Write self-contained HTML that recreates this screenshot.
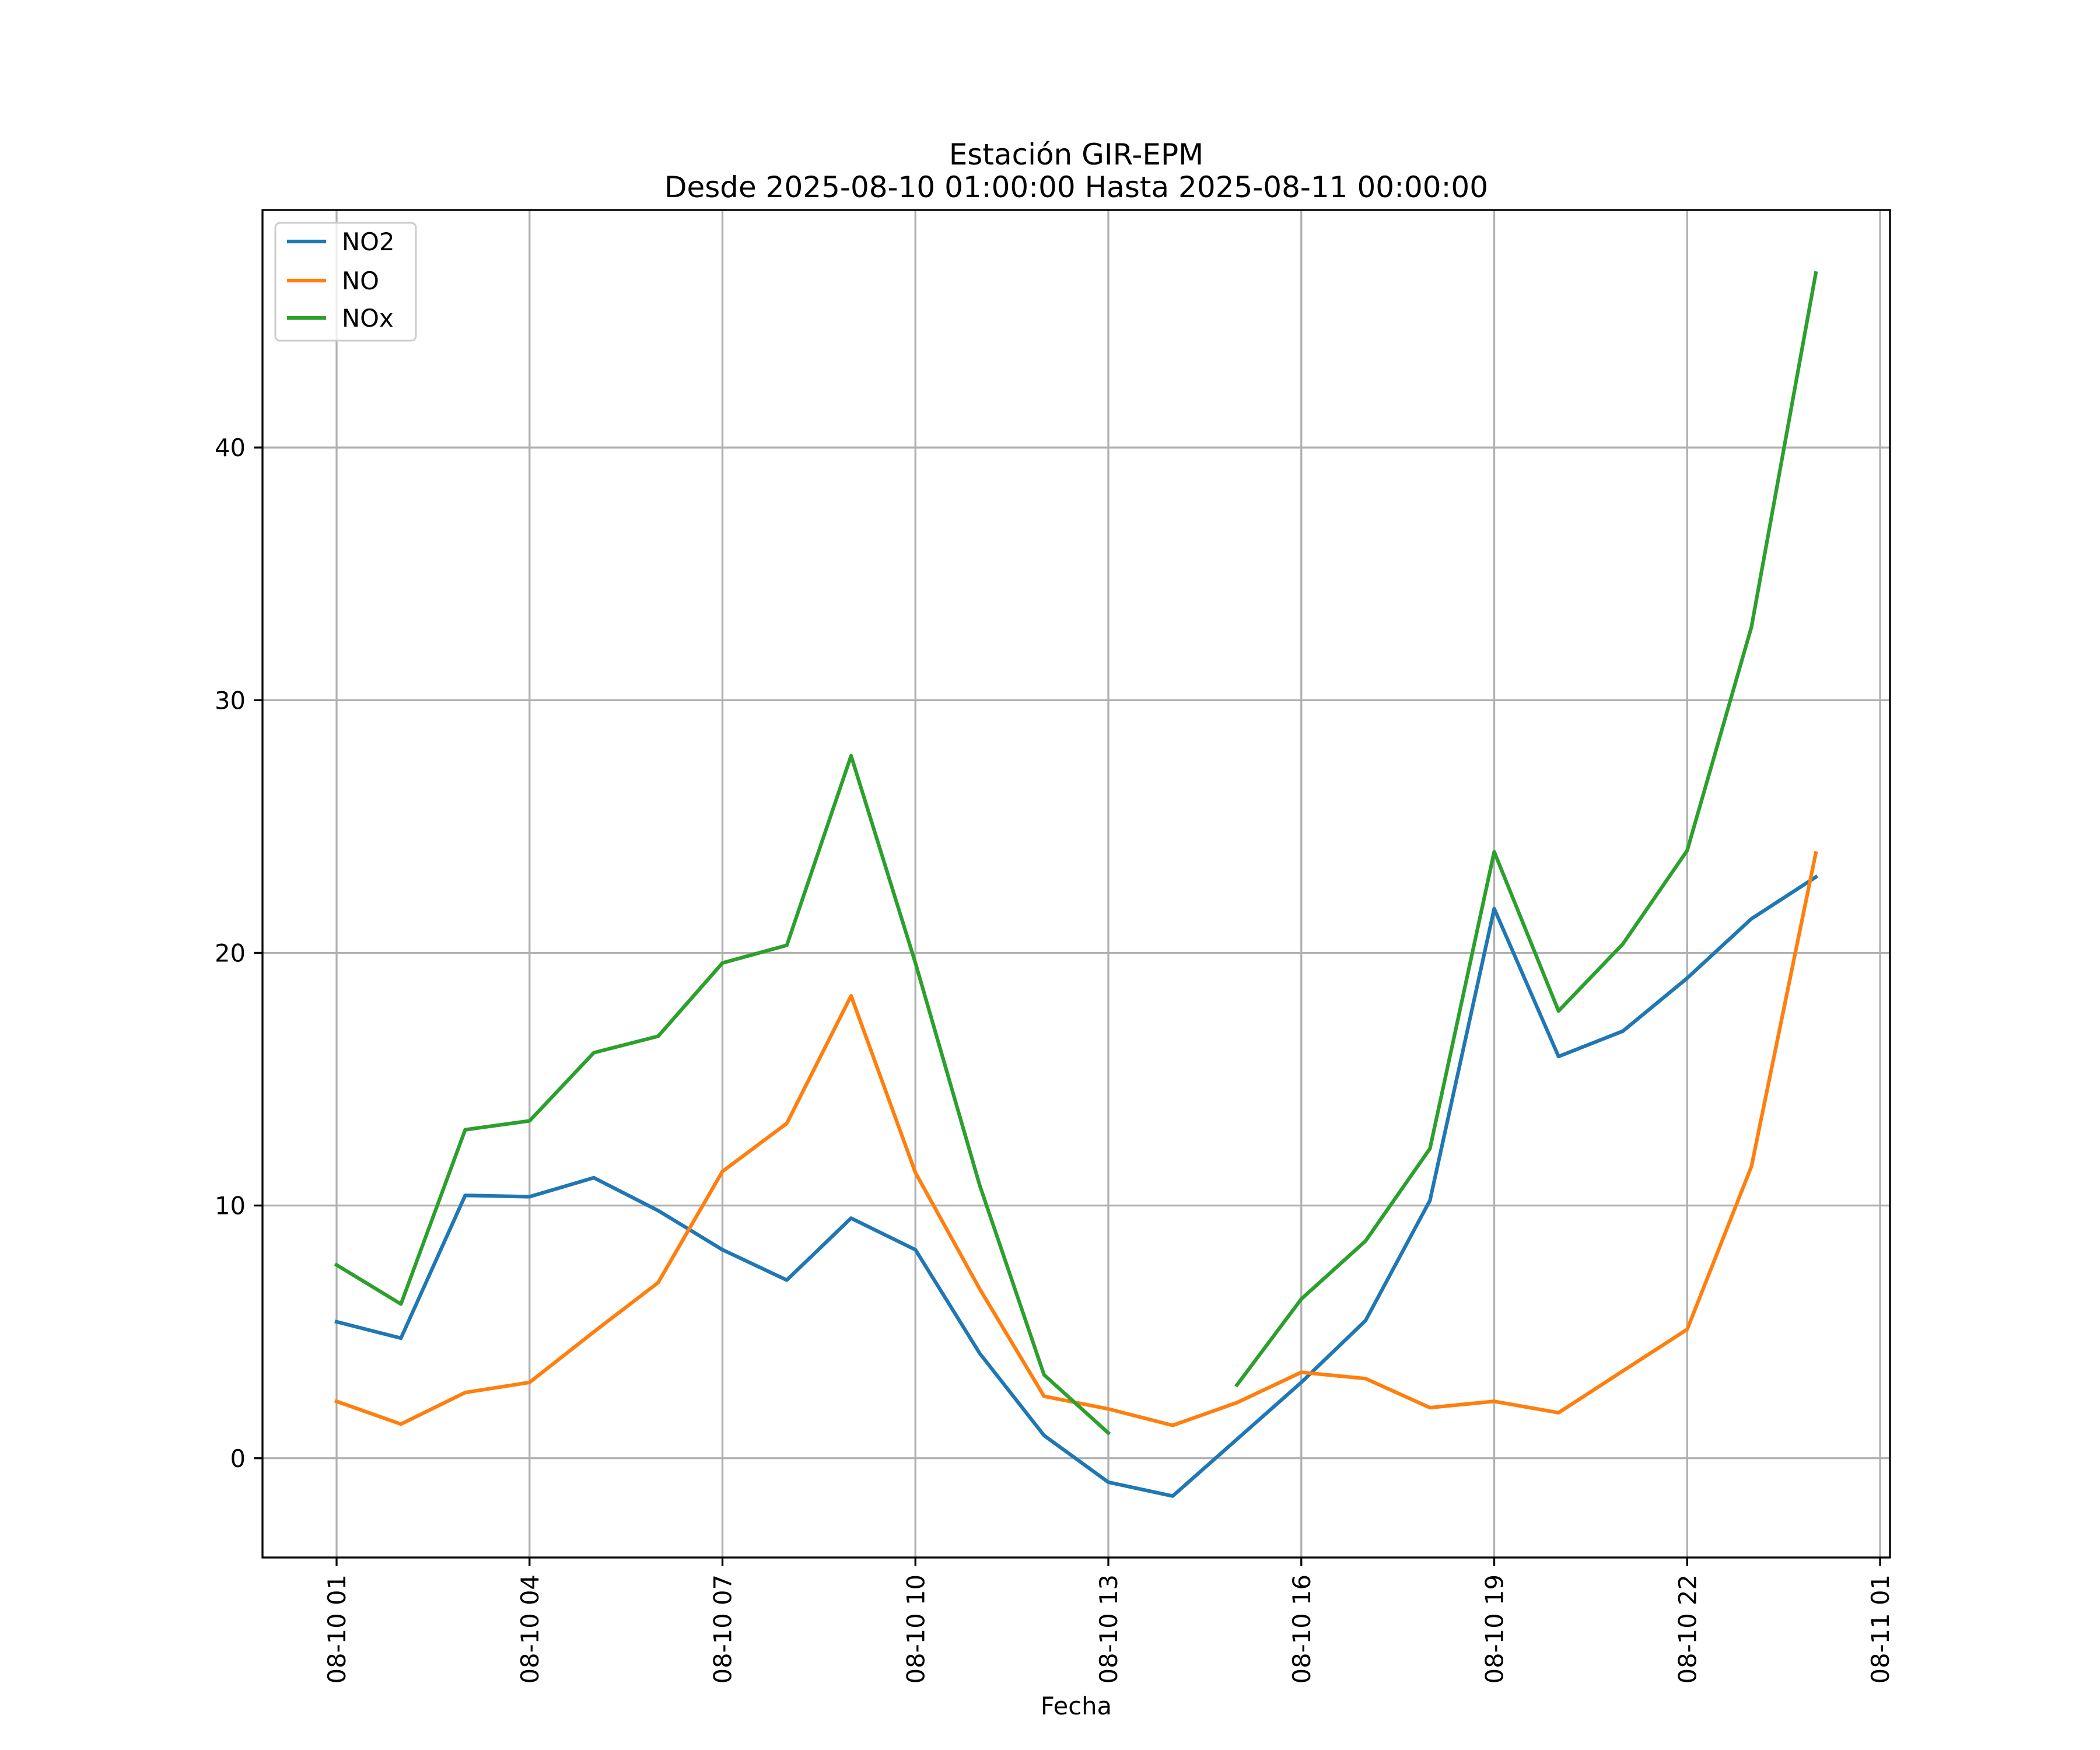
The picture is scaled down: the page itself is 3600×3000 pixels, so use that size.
<!DOCTYPE html>
<html><head><meta charset="utf-8"><style>
html,body{margin:0;padding:0;background:#fff;}
svg{display:block;font-family:"DejaVu Sans","Liberation Sans",sans-serif;}
</style></head><body>
<svg id="chart" width="3600" height="3000" viewBox="0 0 3600 3000" xmlns="http://www.w3.org/2000/svg">
<rect width="3600" height="3000" fill="#fff"/>
<text x="1845" y="282" font-size="50" text-anchor="middle">Estación GIR-EPM</text>
<text x="1845" y="338" font-size="50" text-anchor="middle">Desde 2025-08-10 01:00:00 Hasta 2025-08-11 00:00:00</text>
<g id="grid"></g><g id="series"></g><g id="axes"></g>
<text x="1845" y="2939" font-size="41.7" text-anchor="middle">Fecha</text>
<g>
<rect x="472" y="382" width="241" height="202" rx="8" fill="#fff" fill-opacity="0.8" stroke="#ccc" stroke-width="3"/>
<line x1="492" y1="414" x2="559" y2="414" stroke="#1f77b4" stroke-width="6.25"/>
<text x="586" y="429" font-size="41.7">NO2</text>
<line x1="492" y1="481" x2="559" y2="481" stroke="#ff7f0e" stroke-width="6.25"/>
<text x="586" y="496" font-size="41.7">NO</text>
<line x1="492" y1="545" x2="559" y2="545" stroke="#2ca02c" stroke-width="6.25"/>
<text x="586" y="560" font-size="41.7">NOx</text>
</g>
</svg>
<script>
const hours = [1,2,3,4,5,6,7,8,9,10,11,12,13,14,15,16,17,18,19,20,21,22,23,24];
const no2 = [5.4,4.75,10.4,10.35,11.1,9.8,8.25,7.05,9.5,8.25,4.15,0.9,-0.95,-1.5,0.75,3.0,5.45,10.2,21.75,15.9,16.9,19.0,21.35,23.0];
const no = [2.25,1.35,2.6,3.0,5.0,6.95,11.35,13.25,18.3,11.3,6.7,2.45,1.95,1.3,2.2,3.4,3.15,2.0,2.25,1.8,3.45,5.1,11.55,23.95];
const nox = [7.65,6.1,13.0,13.35,16.05,16.7,19.6,20.3,27.8,19.6,10.8,3.3,1.0,null,2.9,6.3,8.6,12.25,24.0,17.7,20.35,24.05,32.9,46.9];
const xTickHours = [1,4,7,10,13,16,19,22,25];
const xTickLabels = ["08-10 01","08-10 04","08-10 07","08-10 10","08-10 13","08-10 16","08-10 19","08-10 22","08-11 01"];
const yTicks = [0,10,20,30,40];

const L=450,R=3240,T=360,B=2670;
const xMin=-0.152,xMax=25.154,yMin=-3.93,yMax=49.4;
const X=h=>L+(h-xMin)/(xMax-xMin)*(R-L);
const Y=v=>B-(v-yMin)/(yMax-yMin)*(B-T);
const NS="http://www.w3.org/2000/svg";
function mk(tag,attrs,parent){const e=document.createElementNS(NS,tag);for(const k in attrs)e.setAttribute(k,attrs[k]);parent.appendChild(e);return e;}
const grid=document.getElementById('grid'),axes=document.getElementById('axes'),series=document.getElementById('series');

xTickHours.forEach((h,i)=>{
  const x=X(h);
  const g=mk('line',{x1:x,y1:T,x2:x,y2:B,stroke:'#b0b0b0','stroke-width':3.3},grid);
  
  
  const t=mk('line',{x1:x,y1:B,x2:x,y2:B+14.6,stroke:'#000','stroke-width':3.3},axes);
  
  
  const lb=mk('text',{x:0,y:0,'font-size':41.7,'text-anchor':'end',transform:`translate(${x+15},${B+29}) rotate(-90)`},axes);
  lb.textContent=xTickLabels[i];
  
  
});
yTicks.forEach(v=>{
  const y=Y(v);
  const g=mk('line',{x1:L,y1:y,x2:R,y2:y,stroke:'#b0b0b0','stroke-width':3.3},grid);
  
  
  const t=mk('line',{x1:L-14.6,y1:y,x2:L,y2:y,stroke:'#000','stroke-width':3.3},axes);
  
  
  const lb=mk('text',{x:L-29,y:y+15,'font-size':41.7,'text-anchor':'end'},axes);
  lb.textContent=String(v);
  
  
});
const frame=mk('rect',{x:L,y:T,width:R-L,height:B-T,fill:'none',stroke:'#000','stroke-width':3.3},axes);



function drawSeries(vals,color,name){
  let d='',pen=false;
  vals.forEach((v,i)=>{
    if(v===null){pen=false;return;}
    d+=(pen?'L':'M')+X(hours[i]).toFixed(1)+' '+Y(v).toFixed(1)+' ';
    pen=true;
  });
  const p=mk('path',{d:d,fill:'none',stroke:color,'stroke-width':6.25,'stroke-linejoin':'round','stroke-linecap':'square'},series);
  
  
}
drawSeries(no2,'#1f77b4','series-no2');
drawSeries(no,'#ff7f0e','series-no');
drawSeries(nox,'#2ca02c','series-nox');
</script>
</body></html>
